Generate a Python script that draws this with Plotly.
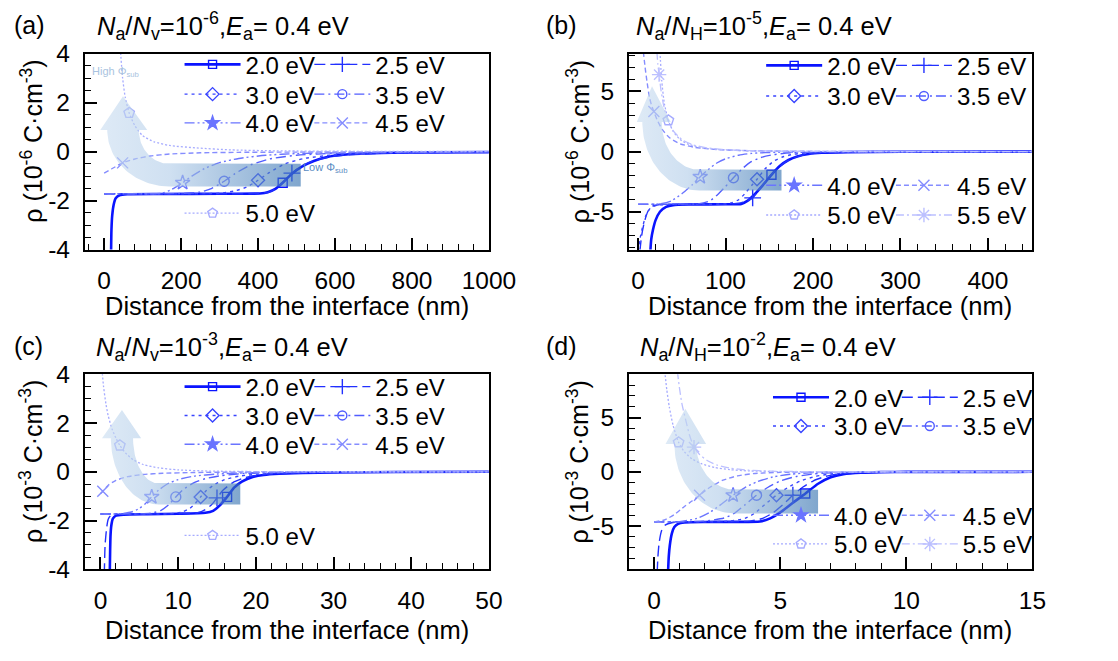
import plotly.graph_objects as go
import numpy as np

W, H = 1118, 661
FONT = "Liberation Sans, Arial, sans-serif"

energy_labels = ["2.0 eV", "2.5 eV", "3.0 eV", "3.5 eV", "4.0 eV", "4.5 eV", "5.0 eV", "5.5 eV"]

# tick values / labels (hyphen minus as in the original figure)
a_xticks = [0, 200, 400, 600, 800, 1000]
b_xticks = [0, 100, 200, 300, 400]
c_xticks = [0, 10, 20, 30, 40, 50]
d_xticks = [0, 5, 10, 15]
ac_yticks = [-4, -2, 0, 2, 4]
ac_ytext = ["-4", "-2", "0", "2", "4"]
bd_yticks = [-5, 0, 5]
bd_ytext = ["-5", "0", "5"]

# ---------------- panel (a): Na/Nv = 1e-6 (rho in 1e-6 C/cm3, x in nm) ----------------
a_x_20 = [18, 19, 21, 25, 30, 40, 60, 150, 300, 405, 425, 445, 464, 488, 515, 545, 580, 620, 670, 750, 850, 1000]
a_y_20 = [-4.2, -3.2, -2.6, -2.15, -1.9, -1.78, -1.74, -1.73, -1.72, -1.71, -1.66, -1.52, -1.27, -0.9, -0.6, -0.38, -0.22, -0.13, -0.08, -0.05, -0.03, -0.02]
a_x_25 = [0, 100, 200, 300, 400, 425, 445, 465, 488, 515, 545, 600, 700, 850, 1000]
a_y_25 = [-1.72, -1.72, -1.72, -1.72, -1.71, -1.67, -1.52, -1.25, -0.88, -0.58, -0.37, -0.18, -0.08, -0.04, -0.02]
a_x_30 = [0, 100, 200, 300, 340, 370, 400, 430, 470, 520, 600, 700, 850, 1000]
a_y_30 = [-1.72, -1.72, -1.72, -1.7, -1.6, -1.45, -1.17, -0.85, -0.5, -0.28, -0.13, -0.06, -0.03, -0.02]
a_x_35 = [0, 100, 200, 250, 280, 312, 340, 380, 430, 500, 600, 800, 1000]
a_y_35 = [-1.72, -1.72, -1.71, -1.65, -1.5, -1.21, -0.9, -0.55, -0.3, -0.15, -0.07, -0.03, -0.02]
a_x_40 = [0, 100, 150, 175, 204, 230, 260, 300, 350, 420, 500, 650, 800, 1000]
a_y_40 = [-1.72, -1.72, -1.7, -1.55, -1.27, -0.98, -0.7, -0.45, -0.28, -0.15, -0.08, -0.04, -0.02, -0.01]
a_x_45 = [0, 20, 48, 80, 120, 170, 250, 350, 500, 700, 1000]
a_y_45 = [-0.88, -0.7, -0.46, -0.3, -0.18, -0.1, -0.05, -0.03, -0.02, -0.01, 0]
a_x_50 = [42, 48, 55, 65, 80, 100, 130, 170, 240, 330, 450, 700, 1000]
a_y_50 = [4.2, 3.0, 2.2, 1.58, 1.05, 0.65, 0.4, 0.25, 0.15, 0.07, 0.03, 0.01, 0]
a_mx = [464, 488, 400, 312, 204, 48, 65]
a_my = [-1.27, -0.88, -1.17, -1.21, -1.27, -0.46, 1.58]

# ---------------- panel (b): Na/NH = 1e-5 ----------------
b_x_20 = [14, 15, 17, 20, 25, 32, 40, 60, 100, 118, 125, 132, 142, 152.5, 162, 172, 182, 195, 210, 240, 300, 450]
b_y_20 = [-8.3, -7.3, -6.5, -5.7, -5.0, -4.6, -4.45, -4.4, -4.38, -4.35, -4.1, -3.65, -2.85, -1.93, -1.2, -0.7, -0.4, -0.2, -0.1, -0.04, -0.01, 0]
b_x_25 = [2, 4, 7, 11, 16, 25, 60, 100, 115, 124, 131, 140, 150, 160, 170, 182, 195, 210, 240, 300, 450]
b_y_25 = [-8.3, -7.0, -5.9, -5.0, -4.55, -4.4, -4.38, -4.37, -4.3, -4.1, -3.85, -3.0, -2.1, -1.35, -0.8, -0.42, -0.2, -0.1, -0.04, -0.01, 0]
b_x_30 = [0, 2, 5, 9, 14, 22, 40, 80, 105, 115, 122, 130, 136, 145, 155, 165, 178, 195, 220, 260, 450]
b_y_30 = [-8.3, -7.3, -6.3, -5.3, -4.7, -4.45, -4.4, -4.38, -4.3, -4.0, -3.5, -2.8, -2.3, -1.45, -0.8, -0.45, -0.22, -0.1, -0.04, -0.01, 0]
b_x_35 = [0, 40, 70, 82, 92, 100, 109, 118, 128, 140, 155, 175, 200, 250, 450]
b_y_35 = [-4.37, -4.37, -4.33, -4.1, -3.5, -2.9, -2.17, -1.5, -0.9, -0.5, -0.25, -0.1, -0.04, -0.01, 0]
b_x_40 = [0, 25, 38, 50, 62, 71, 80, 90, 100, 115, 130, 160, 200, 450]
b_y_40 = [-4.37, -4.35, -4.1, -3.5, -2.75, -2.1, -1.5, -0.95, -0.6, -0.3, -0.15, -0.05, -0.02, 0]
b_x_45 = [6, 8, 10, 13, 16, 18, 22, 28, 36, 48, 65, 90, 130, 200, 450]
b_y_45 = [8.3, 7.0, 5.9, 4.5, 3.7, 3.34, 2.6, 1.8, 1.15, 0.65, 0.35, 0.17, 0.07, 0.02, 0]
b_x_50 = [25, 27, 30, 34.6, 40, 48, 58, 72, 90, 120, 170, 250, 450]
b_y_50 = [8.3, 5.9, 4.0, 2.6, 1.7, 1.0, 0.6, 0.33, 0.18, 0.08, 0.03, 0.01, 0]
b_x_55 = [21.5, 22.5, 24, 26, 29, 33, 40, 50, 62, 80, 110, 160, 250, 450]
b_y_55 = [8.3, 7.3, 6.4, 5.2, 3.9, 2.8, 1.75, 1.0, 0.58, 0.3, 0.12, 0.04, 0.01, 0]
b_mx = [152.5, 131, 136, 109, 71, 18, 34.6, 24]
b_my = [-1.93, -3.85, -2.3, -2.17, -2.1, 3.34, 2.6, 6.4]

# ---------------- panel (c): Na/Nv = 1e-3 (rho in 1e-3 C/cm3) ----------------
c_x_20 = [1.2, 1.25, 1.3, 1.4, 1.6, 2.0, 3, 6, 10, 13.5, 14.5, 15.3, 16.3, 17.2, 18.2, 19.5, 21, 23, 26, 30, 38, 50]
c_y_20 = [-4.2, -3.2, -2.6, -2.2, -1.92, -1.8, -1.76, -1.74, -1.72, -1.68, -1.6, -1.4, -1.03, -0.65, -0.4, -0.22, -0.13, -0.08, -0.05, -0.03, -0.01, 0]
c_x_25 = [0.5, 0.6, 0.8, 1.0, 1.3, 2, 5, 10, 12.5, 13.5, 14.3, 15, 15.8, 17, 18.5, 20, 23, 27, 35, 50]
c_y_25 = [-4.2, -3.0, -2.3, -1.95, -1.8, -1.75, -1.73, -1.72, -1.68, -1.55, -1.35, -1.07, -0.75, -0.45, -0.25, -0.15, -0.07, -0.04, -0.01, 0]
c_x_30 = [0, 5, 9, 10.5, 11.5, 12.2, 12.9, 13.7, 14.8, 16, 18, 21, 25, 32, 50]
c_y_30 = [-1.73, -1.73, -1.72, -1.65, -1.5, -1.3, -1.03, -0.75, -0.5, -0.32, -0.17, -0.08, -0.04, -0.01, 0]
c_x_35 = [0, 4, 6.5, 7.8, 8.8, 9.7, 10.7, 12, 13.5, 15.5, 18, 22, 28, 50]
c_y_35 = [-1.73, -1.73, -1.7, -1.58, -1.35, -1.03, -0.72, -0.45, -0.28, -0.16, -0.08, -0.04, -0.01, 0]
c_x_40 = [0, 2.5, 4, 5, 5.8, 6.6, 7.5, 8.6, 10, 12, 15, 19, 25, 50]
c_y_40 = [-1.73, -1.72, -1.65, -1.5, -1.3, -1.03, -0.75, -0.5, -0.32, -0.18, -0.09, -0.04, -0.01, 0]
c_x_45 = [0, 0.3, 1, 2, 3.5, 5.5, 8, 12, 18, 30, 50]
c_y_45 = [-0.9, -0.8, -0.55, -0.35, -0.2, -0.11, -0.06, -0.03, -0.01, 0, 0]
c_x_50 = [0.2, 0.4, 0.7, 1.0, 1.5, 2.0, 2.5, 3.2, 4.2, 5.5, 7.5, 10, 14, 20, 50]
c_y_50 = [4.2, 3.5, 2.8, 2.3, 1.75, 1.38, 1.08, 0.78, 0.5, 0.3, 0.16, 0.08, 0.03, 0.01, 0]
c_mx = [16.3, 15.0, 12.9, 9.7, 6.6, 0.3, 2.5]
c_my = [-1.03, -1.07, -1.03, -1.03, -1.03, -0.8, 1.08]

# ---------------- panel (d): Na/NH = 1e-2 ----------------
d_x_20 = [0.55, 0.58, 0.62, 0.7, 0.8, 0.95, 1.2, 2, 3, 4.2, 4.6, 5.0, 5.5, 6.0, 6.5, 7.0, 7.5, 8.2, 9, 10, 15]
d_y_20 = [-9.3, -7.8, -6.8, -5.7, -5.1, -4.8, -4.68, -4.63, -4.62, -4.58, -4.3, -3.75, -2.85, -2.0, -1.1, -0.5, -0.22, -0.08, -0.03, -0.01, 0]
d_x_25 = [0.12, 0.15, 0.2, 0.3, 0.45, 0.7, 1.2, 2.5, 3.8, 4.3, 4.7, 5.1, 5.5, 5.9, 6.3, 6.8, 7.4, 8.2, 9.5, 15]
d_y_25 = [-9.3, -7.8, -6.5, -5.4, -4.9, -4.7, -4.63, -4.62, -4.55, -4.3, -3.8, -3.05, -2.16, -1.4, -0.85, -0.42, -0.17, -0.06, -0.02, 0]
d_x_30 = [0, 1, 2, 3, 3.6, 4.0, 4.4, 4.85, 5.3, 5.8, 6.4, 7.0, 7.8, 9, 15]
d_y_30 = [-4.62, -4.62, -4.62, -4.55, -4.3, -3.8, -3.0, -2.16, -1.45, -0.85, -0.42, -0.2, -0.07, -0.02, 0]
d_x_35 = [0, 1, 2, 2.8, 3.2, 3.6, 4.06, 4.5, 5.0, 5.6, 6.3, 7.2, 8.5, 15]
d_y_35 = [-4.62, -4.62, -4.55, -4.25, -3.8, -3.05, -2.16, -1.45, -0.85, -0.45, -0.2, -0.07, -0.02, 0]
d_x_40 = [0, 1, 1.7, 2.2, 2.6, 3.13, 3.6, 4.1, 4.7, 5.4, 6.3, 7.5, 15]
d_y_40 = [-4.62, -4.6, -4.3, -3.75, -3.1, -2.16, -1.45, -0.9, -0.48, -0.22, -0.08, -0.02, 0]
d_x_45 = [0, 0.4, 0.8, 1.2, 1.5, 1.8, 2.2, 2.7, 3.3, 4.0, 5, 6.5, 15]
d_y_45 = [-4.62, -4.45, -3.95, -3.2, -2.7, -2.16, -1.45, -0.8, -0.38, -0.15, -0.05, -0.01, 0]
d_x_50 = [0.42, 0.5, 0.6, 0.75, 0.97, 1.2, 1.5, 1.9, 2.4, 3.0, 3.8, 5, 7, 15]
d_y_50 = [9.3, 7.6, 6.0, 4.3, 2.72, 1.85, 1.2, 0.72, 0.4, 0.2, 0.08, 0.02, 0, 0]
d_x_55 = [0.92, 1.0, 1.1, 1.25, 1.4, 1.58, 1.8, 2.1, 2.5, 3.0, 3.7, 4.6, 6, 8, 15]
d_y_55 = [9.3, 7.8, 6.3, 4.8, 3.4, 2.28, 1.6, 1.05, 0.62, 0.35, 0.16, 0.06, 0.02, 0, 0]
d_mx = [5.99, 5.5, 4.85, 4.06, 3.13, 1.8, 0.97, 1.58]
d_my = [-2.0, -2.16, -2.16, -2.16, -2.16, -2.16, 2.72, 2.28]

# ---------------- styles ----------------
colors = ['#0a14ff', '#2230ff', '#3844ff', '#525dff', '#6a74ff', '#858dff', '#a6abff', '#bcc0ff']
dashes = ['solid', '11px,5px', '3px,4px', '10px,4px,2px,4px', '10px,3px,2px,3px,2px,3px', '5px,3px', '2px,2px', '8px,3px,2px,3px']
widths = [2.6, 1.4, 1.4, 1.4, 1.4, 1.4, 1.3, 1.3]
plot_symbols = ['square-open', 'cross-thin-open', 'diamond-open', 'circle-open', 'star-open', 'x-thin-open', 'pentagon-open', 'asterisk-open']
plot_sizes = [9, 12, 10, 10, 11, 11, 11, 12]
leg_symbols = ['square-open', 'cross-thin-open', 'diamond-open', 'circle-open', 'star', 'x-thin-open', 'pentagon-open', 'asterisk-open']
leg_sizes = [8, 11, 10, 9, 10, 11, 10, 12]

panels = [
    dict(xa='x', ya='y',
         curves=[(a_x_20, a_y_20), (a_x_25, a_y_25), (a_x_30, a_y_30), (a_x_35, a_y_35),
                 (a_x_40, a_y_40), (a_x_45, a_y_45), (a_x_50, a_y_50)],
         mx=a_mx, my=a_my,
         rows=[[0, 1], [2, 3], [4, 5], [6]], row_y=[54, 85, 115, 209], col_x=[184, 317],
         arrow=(169, 0.88, 79, 1.38, 161, 2.30, 511, 18, 22, 2.26)),
    dict(xa='x2', ya='y2',
         curves=[(b_x_20, b_y_20), (b_x_25, b_y_25), (b_x_30, b_y_30), (b_x_35, b_y_35),
                 (b_x_40, b_y_40), (b_x_45, b_y_45), (b_x_50, b_y_50), (b_x_55, b_y_55)],
         mx=b_mx, my=b_my,
         rows=[[0, 1], [2, 3], [4, 5], [6, 7]], row_y=[55, 87, 180, 211], col_x=[780, 913],
         arrow=(70, 2.47, 43, 3.98, 65.2, 5.71, 164, 6.3, 10.3, 5.44)),
    dict(xa='x3', ya='y3',
         curves=[(c_x_20, c_y_20), (c_x_25, c_y_25), (c_x_30, c_y_30), (c_x_35, c_y_35),
                 (c_x_40, c_y_40), (c_x_45, c_y_45), (c_x_50, c_y_50)],
         mx=c_mx, my=c_my,
         rows=[[0, 1], [2, 3], [4, 5], [6]], row_y=[390, 420, 450, 545], col_x=[184, 317],
         arrow=(7.5, 1.38, 3.3, 1.86, 6.16, 2.72, 18.0, 1.14, 1.04, 2.54)),
    dict(xa='x4', ya='y4',
         curves=[(d_x_20, d_y_20), (d_x_25, d_y_25), (d_x_30, d_y_30), (d_x_35, d_y_35),
                 (d_x_40, d_y_40), (d_x_45, d_y_45), (d_x_50, d_y_50), (d_x_55, d_y_55)],
         mx=d_mx, my=d_my,
         rows=[[0, 1], [2, 3], [4, 5], [6, 7]], row_y=[401, 431, 524, 554], col_x=[787, 919],
         arrow=(3.2, 2.57, 1.53, 4.23, 2.4, 6.42, 6.5, 0.35, 0.39, 5.83)),
]


def arrow_outline(cx, cy, rxi, ryi, rxo, ryo, xr, hl, hr, tipy):
    t = np.linspace(0, np.pi / 2, 40)
    xs = [xr]
    ys = [cy - ryi]
    xs += list(cx - rxi * np.sin(t))
    ys += list(cy - ryi * np.cos(t))
    xin, xout = cx - rxi, cx - rxo
    xs += [xin + hr, (xin + xout) / 2, xout - hl, xout]
    ys += [cy, tipy, cy, cy]
    xs += list(cx - rxo * np.cos(t))
    ys += list(cy - ryo * np.sin(t))
    xs += [xr, xr]
    ys += [cy - ryo, cy - ryi]
    return xs, ys


fig = go.Figure()
layout_legends = {}
leg_count = 0

for p in panels:
    xa, ya = p['xa'], p['ya']
    for i, (xs, ys) in enumerate(p['curves']):
        fig.add_trace(go.Scatter(
            x=xs, y=ys, mode='lines', xaxis=xa, yaxis=ya, showlegend=False,
            line=dict(color=colors[i], width=widths[i], dash=dashes[i], shape='spline', smoothing=0.6),
            hoverinfo='skip'))
    for i in range(len(p['curves'])):
        fig.add_trace(go.Scatter(
            x=[p['mx'][i]], y=[p['my'][i]], mode='markers', xaxis=xa, yaxis=ya, showlegend=False,
            marker=dict(symbol=plot_symbols[i], size=plot_sizes[i], color=colors[i],
                        line=dict(color=colors[i], width=1.4)), hoverinfo='skip'))
    ax_, ay_ = arrow_outline(*p['arrow'])
    fig.add_trace(go.Scatter(
        x=ax_, y=ay_, mode='lines', line=dict(width=0), fill='toself', xaxis=xa, yaxis=ya,
        showlegend=False, hoverinfo='skip',
        fillgradient=dict(type='horizontal',
                          colorscale=[[0, 'rgba(200,220,240,0.6)'], [0.35, 'rgba(175,203,232,0.6)'],
                                      [1, 'rgba(50,112,175,0.62)']])))
    # one small legend per entry so that the two legend columns sit exactly where they should
    for r, row in enumerate(p['rows']):
        for c, i in enumerate(row):
            leg_count += 1
            lname = 'legend' if leg_count == 1 else 'legend%d' % leg_count
            fig.add_trace(go.Scatter(
                x=[None], y=[None], mode='lines+markers', xaxis=xa, yaxis=ya,
                name=energy_labels[i], legend=lname, showlegend=True,
                line=dict(color=colors[i], width=widths[i], dash=dashes[i]),
                marker=dict(symbol=leg_symbols[i], size=leg_sizes[i], color=colors[i],
                            line=dict(color=colors[i], width=1.4))))
            layout_legends[lname] = dict(
                x=p['col_x'][c] / W, y=1 - p['row_y'][r] / H, xanchor='left', yanchor='middle',
                xref='paper', yref='paper', orientation='h', bgcolor='rgba(0,0,0,0)', borderwidth=0,
                font=dict(size=24, family=FONT, color='black'), itemwidth=56, itemclick=False)


def px_dom(a, b, total):
    return [a / total, b / total]

def minor(dt):
    return dict(dtick=dt, tick0=0, ticks='inside', ticklen=6, tickwidth=1.2, tickcolor='black')

axis_common = dict(showline=True, mirror=True, linewidth=2, linecolor='black', ticks='inside',
                   ticklen=12, tickwidth=1.5, tickcolor='black', showgrid=False, zeroline=False,
                   tickfont=dict(size=24.5, family=FONT, color='black'), ticklabelstandoff=8)

xdefs = {
    'xaxis': dict(domain=px_dom(87, 501, W), range=[-50, 1000], tickmode='array', tickvals=a_xticks,
                  ticktext=[str(v) for v in a_xticks], minor=minor(40), anchor='y'),
    'xaxis2': dict(domain=px_dom(644.5, 1058, W), range=[-10.5, 451], tickmode='array', tickvals=b_xticks,
                   ticktext=[str(v) for v in b_xticks], minor=minor(20), anchor='y2'),
    'xaxis3': dict(domain=px_dom(87, 501, W), range=[-2, 50], tickmode='array', tickvals=c_xticks,
                   ticktext=[str(v) for v in c_xticks], minor=minor(2), anchor='y3'),
    'xaxis4': dict(domain=px_dom(644.5, 1058, W), range=[-1, 15], tickmode='array', tickvals=d_xticks,
                   ticktext=[str(v) for v in d_xticks], minor=minor(1), anchor='y4'),
}
ydefs = {
    'yaxis': dict(domain=[1 - 246.7 / H, 1 - 42.3 / H], range=[-4, 4], tickmode='array', tickvals=ac_yticks,
                  ticktext=ac_ytext, minor=minor(0.5), anchor='x'),
    'yaxis2': dict(domain=[1 - 246.7 / H, 1 - 42.3 / H], range=[-8.15, 8.15], tickmode='array', tickvals=bd_yticks,
                   ticktext=bd_ytext, minor=minor(1), anchor='x2'),
    'yaxis3': dict(domain=[1 - 580 / H, 1 - 376.7 / H], range=[-4, 4], tickmode='array', tickvals=ac_yticks,
                   ticktext=ac_ytext, minor=minor(0.5), anchor='x3'),
    'yaxis4': dict(domain=[1 - 580 / H, 1 - 376.7 / H], range=[-9, 9], tickmode='array', tickvals=bd_yticks,
                   ticktext=bd_ytext, minor=minor(1), anchor='x4'),
}
for k, v in xdefs.items():
    d = dict(axis_common); d.update(v); fig.layout[k] = d
for k, v in ydefs.items():
    d = dict(axis_common); d.update(v); fig.layout[k] = d

annots = []
def txt(text, xpx, ypx, size=24, xanchor='left', yanchor='middle', color='black', angle=0):
    annots.append(dict(text=text, x=xpx / W, y=1 - ypx / H, xref='paper', yref='paper',
                       xanchor=xanchor, yanchor=yanchor, showarrow=False, textangle=angle,
                       font=dict(size=size, family=FONT, color=color)))

titles = [
    ("<i>N</i><sub>a</sub>/<i>N</i><sub>v</sub>=10<sup>-6</sup>,<i>E</i><sub>a</sub>= 0.4 eV", 97, 14),
    ("<i>N</i><sub>a</sub>/<i>N</i><sub>H</sub>=10<sup>-5</sup>,<i>E</i><sub>a</sub>= 0.4 eV", 650, 14),
    ("<i>N</i><sub>a</sub>/<i>N</i><sub>v</sub>=10<sup>-3</sup>,<i>E</i><sub>a</sub>= 0.4 eV", 96, 348),
    ("<i>N</i><sub>a</sub>/<i>N</i><sub>H</sub>=10<sup>-2</sup>,<i>E</i><sub>a</sub>= 0.4 eV", 654, 348),
]
for t, x, y in titles:
    txt(t, x, y, size=25.5)
for lab, x, y in [("(a)", 12, 13), ("(b)", 557, 13), ("(c)", 12, 347), ("(d)", 557, 347)]:
    txt(lab, x, y, size=25)
for cx, cy in [(294, 305), (851, 305), (294, 643), (851, 643)]:
    txt("Distance from the interface (nm)", cx, cy, size=25.5, xanchor='center')
for cx, cy, e in [(32, 134, '-6'), (592, 134, '-6'), (32, 468, '-3'), (592, 468, '-3')]:
    txt("ρ (10<sup>" + e + "</sup> C·cm<sup>-3</sup>)", cx, cy, size=25, xanchor='center', angle=-90)
txt("High Φ<sub>sub</sub>", 92, 62, size=11, color='#a9c3e0')
txt("Low Φ<sub>sub</sub>", 308, 162, size=11, color='#5a8cc2')

fig.update_layout(width=W, height=H, margin=dict(l=0, r=0, t=0, b=0),
                  paper_bgcolor='white', plot_bgcolor='white',
                  font=dict(family=FONT, size=24, color='black'),
                  annotations=annots, **layout_legends)

fig.write_html("out.html")
